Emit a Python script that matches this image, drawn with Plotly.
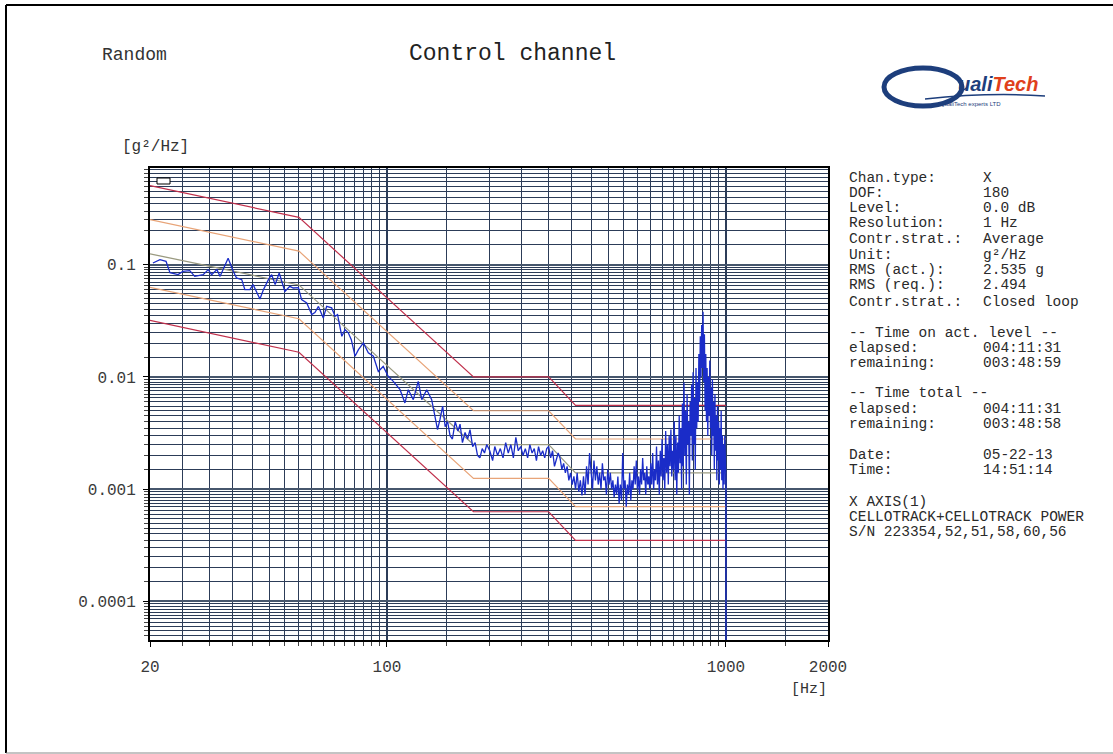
import plotly.graph_objects as go

# ---------------- data ----------------
# low / mid frequency part of the control PSD (Hz, g^2/Hz)
LF_FREQ = [20.4, 21.4, 22.3, 22.9, 24.2, 25.0, 26.2, 27.1, 28.7, 29.7, 30.4, 31.5, 32.2, 32.8,
           34.0, 35.2, 36.0, 37.3, 38.1, 39.4, 40.3, 42.2, 43.2, 44.7, 45.7, 46.8, 48.1, 50.0,
           51.7, 52.9, 54.8, 56.0, 58.0, 60.0, 61.3, 62.8, 64.9, 66.4, 68.7, 70.3, 71.5, 73.6,
           75.2, 76.9, 78.5, 80.5, 82.4, 85.2, 88.1, 91.2, 94.3, 97.5, 100.9, 104.4, 109.3,
           113.0, 115.6, 119.6, 123.7, 126.7, 131.0, 135.5,
           138.6, 141, 143.4, 146, 148.5, 151, 153.5, 156, 159, 162, 164.3, 167, 170, 173,
           175.8, 179, 182, 185, 188, 191, 194, 197, 201, 205, 208, 212, 216, 220, 224, 228,
           232, 236, 240, 244, 248, 252, 256, 260, 264, 268, 272, 276, 280, 284, 288, 292, 296]
LF_PSD = [0.1035, 0.1108, 0.107, 0.0849, 0.0815, 0.0872, 0.0884, 0.0787, 0.0815, 0.0903,
          0.0815, 0.0903, 0.0787, 0.0903, 0.1138, 0.0872, 0.0761, 0.0735, 0.0599, 0.0599,
          0.0664, 0.0495, 0.0599, 0.0735, 0.0815, 0.0664, 0.0844, 0.0578, 0.0641, 0.062,
          0.0624, 0.0488, 0.0456, 0.0359, 0.0374, 0.0425, 0.0335, 0.0425, 0.0412, 0.0347,
          0.0359, 0.023, 0.0264, 0.0247, 0.0215, 0.0153, 0.0175, 0.0201, 0.0164, 0.0153,
          0.0112, 0.0124, 0.0101, 0.00914, 0.0077, 0.00587, 0.0077, 0.00628, 0.00914,
          0.00628, 0.0077, 0.00628,
          0.0045, 0.0034, 0.0042, 0.0055, 0.0036, 0.0040, 0.0030, 0.0028, 0.0040, 0.0033,
          0.0038, 0.0026, 0.0032, 0.0028, 0.0034, 0.0024, 0.0026, 0.0020, 0.0019, 0.0023,
          0.0021, 0.0025, 0.0022, 0.0018, 0.0024, 0.0020, 0.0023, 0.0019, 0.0026, 0.0021,
          0.0025, 0.0019, 0.0029, 0.0022, 0.0024, 0.0020, 0.0023, 0.0019, 0.0025, 0.0021,
          0.0023, 0.0018, 0.0024, 0.0020, 0.0022, 0.0019, 0.0023]

# high frequency part: spectral lines from 300 Hz every 4 Hz
HF_START = 300
HF_STEP = 4
HF_PSD = [
    # 300 - 396
    0.0024, 0.0019, 0.0022, 0.0016, 0.0018, 0.0021, 0.0019, 0.0015, 0.0017, 0.0014,
    0.0016, 0.0012, 0.0014, 0.0011, 0.0013, 0.0010, 0.0014, 0.00095, 0.0012, 0.00088,
    0.0013, 0.0009, 0.0016, 0.0011, 0.0021,
    # 400 - 596
    0.0015, 0.0010, 0.0018, 0.0012, 0.0016, 0.0011, 0.0014, 0.0010, 0.0017, 0.0012,
    0.0013, 0.0009, 0.0015, 0.0011, 0.0014, 0.0010, 0.0012, 0.00085, 0.0011, 0.0009,
    0.0013, 0.00075, 0.0011, 0.0008, 0.0021, 0.0010, 0.0012, 0.0007, 0.0011, 0.0009,
    0.0014, 0.0008, 0.0012, 0.0010, 0.0016, 0.0011, 0.0018, 0.0010, 0.0013, 0.0009,
    0.0015, 0.0011, 0.0019, 0.0012, 0.0014, 0.0009, 0.0016, 0.0011, 0.0013, 0.0010,
    # 600 - 696
    0.0017, 0.0011, 0.0021, 0.0010, 0.0015, 0.0012, 0.0024, 0.0011, 0.0018, 0.0009,
    0.0022, 0.0013, 0.0028, 0.0012, 0.0019, 0.0010, 0.0033, 0.0014, 0.0025, 0.0011,
    0.0030, 0.0016, 0.0034, 0.0013, 0.0022,
    # 700 - 796
    0.0015, 0.0040, 0.0012, 0.0030, 0.0009, 0.0026, 0.0014, 0.0045, 0.0017, 0.0035,
    0.0010, 0.0058, 0.0016, 0.0089, 0.0020, 0.0050, 0.0011, 0.0070, 0.0025, 0.0040,
    0.0009, 0.0060, 0.0030, 0.0085, 0.0018,
    # 800 - 876
    0.0110, 0.0025, 0.0065, 0.0015, 0.0120, 0.0035, 0.0090, 0.0040, 0.0160, 0.0060,
    0.0230, 0.0100, 0.0290, 0.0120, 0.0380, 0.0090, 0.0240, 0.0050, 0.0160, 0.0040,
    # 880 - 996
    0.0120, 0.0030, 0.0100, 0.0045, 0.0140, 0.0035, 0.0080, 0.0020, 0.0095, 0.0030,
    0.0060, 0.0015, 0.0070, 0.0022, 0.0045, 0.0012, 0.0055, 0.0018, 0.0040, 0.0011,
    0.0035, 0.0015, 0.0050, 0.0012, 0.0030, 0.0010, 0.0025, 0.0011, 0.0030, 0.0012,
]
END_FREQ = [1000, 1000]
END_PSD = [0.0012, 1e-6]   # trace drops to the floor at the upper band limit

# reference profile and tolerance lines
PROFILE_FREQ = [20, 55, 180, 300, 360, 1000]
ABORT_HI = [0.505, 0.264, 0.0100, 0.0100, 0.00558, 0.00558]
ALARM_HI = [0.252, 0.132, 0.0050, 0.0050, 0.0028, 0.0028]
REFERENCE = [0.125, 0.066, 0.0025, 0.0025, 0.0014, 0.0014]
ALARM_LO = [0.0628, 0.033, 0.00125, 0.00125, 0.0007, 0.0007]
ABORT_LO = [0.0319, 0.0166, 0.00063, 0.00063, 0.00035, 0.00035]

X_TICKS = [20, 100, 1000, 2000]
X_TICK_TEXT = ["20", "100", "1000", "2000"]
Y_TICKS = [0.1, 0.01, 0.001, 0.0001]
Y_TICK_TEXT = ["0.1", "0.01", "0.001", "0.0001"]

INFO_ROWS = [
    ("Chan.type:", "X"), ("DOF:", "180"), ("Level:", "0.0 dB"), ("Resolution:", "1 Hz"),
    ("Contr.strat.:", "Average"), ("Unit:", "g²/Hz"), ("RMS (act.):", "2.535 g"),
    ("RMS (req.):", "2.494"), ("Contr.strat.:", "Closed loop"),
    ("-- Time on act. level --", ""), ("elapsed:", "004:11:31"), ("remaining:", "003:48:59"),
    ("-- Time total --", ""), ("elapsed:", "004:11:31"), ("remaining:", "003:48:58"),
    ("Date:", "05-22-13"), ("Time:", "14:51:14"),
    ("X AXIS(1)", ""), ("CELLOTRACK+CELLOTRACK POWER", ""), ("S/N 223354,52,51,58,60,56", ""),
]
INFO_Y = [178, 193, 208, 223, 239, 255, 270, 285, 302, 333, 348, 363, 393, 409, 424,
          455, 470, 502, 517, 532]

# ---------------- layout geometry ----------------
W, H = 1113, 754
L, R, T, B = 150, 828, 168, 640
MONO = "Liberation Mono, Courier New, monospace"


def px(x):
    return (x - L) / (R - L)


def py(y):
    return (B - y) / (B - T)


hf_freq = [HF_START + HF_STEP * i for i in range(len(HF_PSD))]
freq = LF_FREQ + hf_freq + END_FREQ
psd = LF_PSD + HF_PSD + END_PSD

fig = go.Figure()
for vals, col in [(ABORT_HI, "#c0304c"), (ALARM_HI, "#e8a478"), (REFERENCE, "#9a9a80"),
                  (ALARM_LO, "#e8a478"), (ABORT_LO, "#c0304c")]:
    fig.add_trace(go.Scatter(x=PROFILE_FREQ, y=vals, mode="lines",
                             line=dict(color=col, width=1.2), hoverinfo="skip"))
fig.add_trace(go.Scatter(x=freq, y=psd, mode="lines",
                         line=dict(color="#1a2cc8", width=1.3), hoverinfo="skip"))

# minor grid values (every half step of each decade)
x_minor = [k * 5 for k in range(5, 20)] + [k * 50 for k in range(3, 20)] + [1500]
y_minor = []
for e in range(-5, 0):
    for k in range(3, 20):
        v = k * 0.5 * 10 ** e
        if 4.5e-5 < v < 0.726:
            y_minor.append(v)
for k in range(3, 15):
    y_minor.append(k * 0.05)

GRID = "#2c3c58"
fig.update_xaxes(type="log", range=[1.30103, 3.30103],
                 tickmode="array", tickvals=X_TICKS, ticktext=X_TICK_TEXT,
                 ticks="outside", ticklen=5, tickcolor="#000", tickwidth=1,
                 showgrid=True, gridcolor=GRID, gridwidth=1.5,
                 minor=dict(tickmode="array", tickvals=x_minor, ticks="outside", ticklen=4,
                            tickcolor="#444", showgrid=True, gridcolor=GRID, gridwidth=1),
                 showline=True, linecolor="#000", linewidth=2, mirror=True,
                 tickfont=dict(family=MONO, size=16, color="#3a3a3a"),
                 ticklabelstandoff=6, zeroline=False)
fig.update_yaxes(type="log", range=[-4.343, -0.139],
                 tickmode="array", tickvals=Y_TICKS, ticktext=Y_TICK_TEXT,
                 ticks="outside", ticklen=5, tickcolor="#000", tickwidth=1,
                 showgrid=True, gridcolor="#46566c", gridwidth=2,
                 minor=dict(tickmode="array", tickvals=y_minor, ticks="outside", ticklen=4,
                            tickcolor="#444", showgrid=True, gridcolor=GRID, gridwidth=1),
                 showline=True, linecolor="#000", linewidth=2, mirror=True,
                 tickfont=dict(family=MONO, size=16, color="#3a3a3a"),
                 ticklabelstandoff=4, zeroline=False)

ann = []


def text(x, y, s, size, anchor="left", color="#333", family=MONO):
    ann.append(dict(x=px(x), y=py(y), xref="paper", yref="paper", text=s, showarrow=False,
                    xanchor=anchor, yanchor="middle",
                    font=dict(family=family, size=size, color=color)))


text(100, 55, "Random", 18)
text(512, 54, "Control channel", 23, anchor="center", color="#222")
text(120, 147, "[g²/Hz]", 16)
text(809, 689, "[Hz]", 15, anchor="center")
for (lab, val), yy in zip(INFO_ROWS, INFO_Y):
    text(847, yy, lab, 14.5, color="#2a2a2a")
    if val:
        text(981, yy, val, 14.5, color="#2a2a2a")

# logo
text(998, 84, "<b><i><span style='color:#1d3e7c'>uali</span>"
     "<span style='color:#e0401c'>Tech</span></i></b>", 20, anchor="center",
     family="Liberation Sans, Arial")
text(970, 104, "QualiTech experts LTD", 6, anchor="center", color="#1d3e7c",
     family="Liberation Sans, Arial")

BORDER = dict(color="#000", width=2)
shapes = [
    # outer page border (top, left, bottom edges are visible)
    dict(type="line", xref="paper", yref="paper", x0=px(6), x1=px(1113), y0=py(5), y1=py(5),
         line=BORDER),
    dict(type="line", xref="paper", yref="paper", x0=px(6), x1=px(6), y0=py(5), y1=py(753),
         line=BORDER),
    dict(type="line", xref="paper", yref="paper", x0=px(6), x1=px(1113), y0=py(753), y1=py(753),
         line=dict(color="#888", width=1)),
    # small marker box in plot corner
    dict(type="rect", xref="paper", yref="paper", x0=px(157), x1=px(170), y0=py(184), y1=py(178),
         line=dict(color="#000", width=1), fillcolor="#fff"),
    # logo swoosh
    dict(type="circle", xref="paper", yref="paper", x0=px(884), x1=px(962), y0=py(106), y1=py(68),
         line=dict(color="#1d3e7c", width=5)),
    dict(type="path", xref="paper", yref="paper",
         path=f"M {px(925)},{py(99)} Q {px(990)},{py(92)} {px(1045)},{py(96)}",
         line=dict(color="#1d3e7c", width=1.5)),
]

fig.update_layout(width=W, height=H, margin=dict(l=L, r=W - R, t=T, b=H - B, pad=0),
                  paper_bgcolor="#fff", plot_bgcolor="#fff", showlegend=False,
                  annotations=ann, shapes=shapes)

fig.write_html("out.html", config={"displayModeBar": False},
               post_script="document.body.style.margin='0';"
                           "document.body.style.overflow='hidden';")
